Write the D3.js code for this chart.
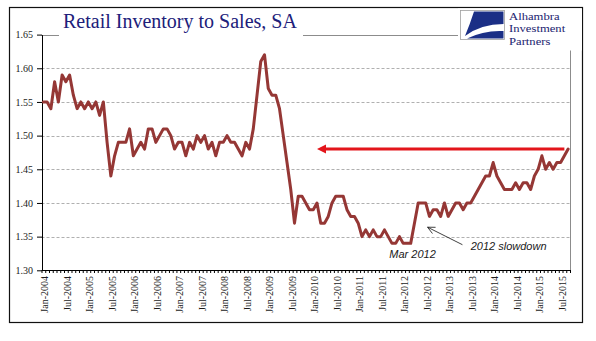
<!DOCTYPE html>
<html>
<head>
<meta charset="utf-8">
<script src="https://cdn.jsdelivr.net/npm/d3@7"></script>
<style>
  html, body { margin: 0; padding: 0; background: #fff; }
  svg { display: block; }
</style>
</head>
<body>
<div id="chart"></div>
<script>
// Retail inventories / sales ratio, seasonally adjusted, monthly
var startMonth = new Date(2004, 0, 1),
    endMonth = new Date(2015, 8, 1);

var ratio = [
  1.55, 1.55, 1.54, 1.58, 1.55, 1.59, 1.58, 1.59, 1.56, 1.54, 1.55, 1.54, // 2004
  1.55, 1.54, 1.55, 1.53, 1.55, 1.49, 1.44, 1.47, 1.49, 1.49, 1.49, 1.51, // 2005
  1.47, 1.48, 1.49, 1.48, 1.51, 1.51, 1.49, 1.50, 1.51, 1.51, 1.50, 1.48, // 2006
  1.49, 1.49, 1.47, 1.49, 1.48, 1.50, 1.49, 1.50, 1.48, 1.49, 1.47, 1.49, // 2007
  1.49, 1.50, 1.49, 1.49, 1.48, 1.47, 1.49, 1.48, 1.51, 1.56, 1.61, 1.62, // 2008
  1.57, 1.56, 1.56, 1.54, 1.50, 1.46, 1.42, 1.37, 1.41, 1.41, 1.40, 1.39, // 2009
  1.39, 1.40, 1.37, 1.37, 1.38, 1.40, 1.41, 1.41, 1.41, 1.39, 1.38, 1.38, // 2010
  1.37, 1.35, 1.36, 1.35, 1.36, 1.35, 1.35, 1.36, 1.35, 1.34, 1.34, 1.35, // 2011
  1.34, 1.34, 1.34, 1.37, 1.40, 1.40, 1.40, 1.38, 1.39, 1.39, 1.38, 1.40, // 2012
  1.38, 1.39, 1.40, 1.40, 1.39, 1.40, 1.40, 1.41, 1.42, 1.43, 1.44, 1.44, // 2013
  1.46, 1.44, 1.43, 1.42, 1.42, 1.42, 1.43, 1.42, 1.43, 1.43, 1.42, 1.44, // 2014
  1.45, 1.47, 1.45, 1.46, 1.45, 1.46, 1.46, 1.47, 1.48                    // 2015
];

var yTicks = [1.30, 1.35, 1.40, 1.45, 1.50, 1.55, 1.60, 1.65];
var labelMonthsOfYear = [0, 6]; // Jan and Jul

// horizontal reference arrow back to the 2010 level
var levelArrow = { from: new Date(2015, 7, 1), to: new Date(2010, 1, 1), value: 1.48 };

// text notes and pointer, positioned in (month index, ratio) units
var notes = [
  { text: "Mar 2012", at: 98.5, value: 1.318, anchor: "middle" },
  { text: "2012 slowdown", at: 114, value: 1.330, anchor: "start" }
];
var pointer = { from: [111.8, 1.338], to: [102.5, 1.364] };

var title = "Retail Inventory to Sales, SA";
var brand = ["Alhambra", "Investment", "Partners"];

var W = 596, H = 341;
var serif = '"Liberation Serif", "Times New Roman", serif';
var sans = '"Liberation Sans", Arial, sans-serif';

var months = d3.timeMonth.range(startMonth, d3.timeMonth.offset(endMonth, 1));
var series = months.map(function (d, i) { return { date: d, i: i, v: ratio[i] }; });

var x = d3.scaleLinear().domain([0, months.length]).range([41.5, 570]);
var y = d3.scaleLinear().domain([1.30, 1.65]).range([270.3, 34.6]);
function cx(i) { return x(i + 0.5); }
function monthIndex(d) { return d3.timeMonth.count(startMonth, d); }

var svg = d3.select("#chart").append("svg")
    .attr("width", W)
    .attr("height", H);

svg.append("rect")
    .attr("width", W).attr("height", H)
    .attr("fill", "#fff");

// outer frame
svg.append("rect")
    .attr("x", 9.5).attr("y", 7.5)
    .attr("width", 573).attr("height", 315)
    .attr("fill", "none")
    .attr("stroke", "#111")
    .attr("stroke-width", 1.2);

// gridlines
svg.append("g")
    .selectAll("line")
    .data(yTicks.filter(function (t) { return t > 1.30 && t < 1.65; }))
    .join("line")
    .attr("x1", x(0)).attr("x2", x(months.length))
    .attr("y1", function (d) { return Math.round(y(d)) + 0.5; })
    .attr("y2", function (d) { return Math.round(y(d)) + 0.5; })
    .attr("stroke", "#b0b0b0")
    .attr("stroke-dasharray", "3,2");

// plot area border, top and right
svg.append("path")
    .attr("d", "M" + x(0) + "," + (Math.round(y(1.65)) + 0.5) +
               "H" + (Math.round(x(months.length)) + 0.5) +
               "V" + y(1.30))
    .attr("fill", "none")
    .attr("stroke", "#8c8c8c");

// y axis
var yAxis = svg.append("g")
    .attr("transform", "translate(" + Math.round(x(0)) + ",0)")
    .call(d3.axisLeft(y)
        .tickValues(yTicks)
        .tickSize(5)
        .tickSizeOuter(0)
        .tickPadding(4)
        .tickFormat(d3.format(".2f")));
yAxis.selectAll("text")
    .style("font-family", serif)
    .style("font-size", "10px")
    .attr("fill", "#1a1a1a");
yAxis.selectAll("path, line").attr("stroke", "#000");

// x axis: a tick at every month boundary
var xAxis = svg.append("g")
    .attr("transform", "translate(0," + Math.round(y(1.30)) + ")")
    .call(d3.axisBottom(x)
        .tickValues(d3.range(0, months.length + 1))
        .tickSize(3)
        .tickSizeOuter(0)
        .tickFormat(""));
xAxis.selectAll("path, line").attr("stroke", "#000");

// month labels on Jan and Jul
var labelIdx = series.filter(function (d) {
  return labelMonthsOfYear.indexOf(d.date.getMonth()) >= 0;
});
var fmt = d3.timeFormat("%b-%Y");
var xLabels = svg.append("g")
    .attr("transform", "translate(0," + Math.round(y(1.30)) + ")")
    .call(d3.axisBottom(x)
        .tickValues(labelIdx.map(function (d) { return d.i + 0.5; }))
        .tickSize(0)
        .tickFormat(function (v) { return fmt(months[Math.floor(v)]); }));
xLabels.select(".domain").remove();
xLabels.selectAll("text")
    .attr("transform", "rotate(-90)")
    .attr("x", -6)
    .attr("y", 1)
    .attr("dy", "0.35em")
    .style("text-anchor", "end")
    .style("font-family", serif)
    .style("font-size", "10px")
    .attr("fill", "#1a1a1a");

// the ratio line
var line = d3.line()
    .x(function (d) { return cx(d.i); })
    .y(function (d) { return y(d.v); });

svg.append("path")
    .datum(series)
    .attr("d", line)
    .attr("fill", "none")
    .attr("stroke", "#953735")
    .attr("stroke-width", 3)
    .attr("stroke-linejoin", "round")
    .attr("stroke-linecap", "round");

// red level arrow
var ax0 = cx(monthIndex(levelArrow.from)),
    ax1 = cx(monthIndex(levelArrow.to)),
    ay = y(levelArrow.value);
svg.append("line")
    .attr("x1", ax0).attr("x2", ax1 + 7)
    .attr("y1", ay).attr("y2", ay)
    .attr("stroke", "#e3151b")
    .attr("stroke-width", 3);
svg.append("path")
    .attr("d", d3.line()([[ax1, ay], [ax1 + 9, ay - 4.5], [ax1 + 9, ay + 4.5]]) + "Z")
    .attr("fill", "#e3151b");

// notes
svg.append("g")
    .selectAll("text")
    .data(notes)
    .join("text")
    .attr("x", function (d) { return cx(d.at); })
    .attr("y", function (d) { return y(d.value); })
    .attr("text-anchor", function (d) { return d.anchor; })
    .style("font-family", sans)
    .style("font-style", "italic")
    .style("font-size", "11px")
    .attr("fill", "#1a1a1a")
    .text(function (d) { return d.text; });

// pointer with an open head
var px0 = cx(pointer.from[0]), py0 = y(pointer.from[1]),
    px1 = cx(pointer.to[0]), py1 = y(pointer.to[1]);
var ang = Math.atan2(py0 - py1, px0 - px1), hl = 8, hw = 0.45;
svg.append("line")
    .attr("x1", px0).attr("y1", py0)
    .attr("x2", px1).attr("y2", py1)
    .attr("stroke", "#111")
    .attr("stroke-width", 0.8);
svg.append("path")
    .attr("d", d3.line()([
        [px1 + hl * Math.cos(ang - hw), py1 + hl * Math.sin(ang - hw)],
        [px1, py1],
        [px1 + hl * Math.cos(ang + hw), py1 + hl * Math.sin(ang + hw)]]))
    .attr("fill", "none")
    .attr("stroke", "#111")
    .attr("stroke-width", 0.8);

// title on a white box over the top border
svg.append("rect")
    .attr("x", 59).attr("y", 9)
    .attr("width", 244).attr("height", 30)
    .attr("fill", "#fff");
svg.append("text")
    .attr("x", 63).attr("y", 27.5)
    .style("font-family", serif)
    .style("font-size", "20px")
    .attr("fill", "#20207a")
    .text(title);

// logo block
var logo = svg.append("g");
logo.append("rect")
    .attr("x", 458).attr("y", 8.5)
    .attr("width", 124).attr("height", 42)
    .attr("fill", "#fff");
logo.append("rect")
    .attr("x", 460.5).attr("y", 10.5)
    .attr("width", 44).attr("height", 29)
    .attr("fill", "#fff")
    .attr("stroke", "#a0a0a0")
    .attr("stroke-width", 0.8);
logo.append("path")
    .attr("d", "M474,11.5 L503.5,11.5 L503.5,24 Q481,24 465,36 Q470,24 474,11.5 Z")
    .attr("fill", "#1b2f86");
logo.append("path")
    .attr("d", "M467,38.5 Q484,30 503.5,31 L503.5,38.5 Z")
    .attr("fill", "#1b2f86");
// brand name, tightly stacked and widened a little
logo.append("g")
    .attr("transform", "translate(509,0) scale(1.12,1)")
    .selectAll("text")
    .data(brand)
    .join("text")
    .attr("x", 0)
    .attr("y", function (d, i) { return 20 + i * 12.5; })
    .style("font-family", serif)
    .style("font-size", "11.3px")
    .attr("fill", "#1c2470")
    .text(function (d) { return d; });
</script>
</body>
</html>
